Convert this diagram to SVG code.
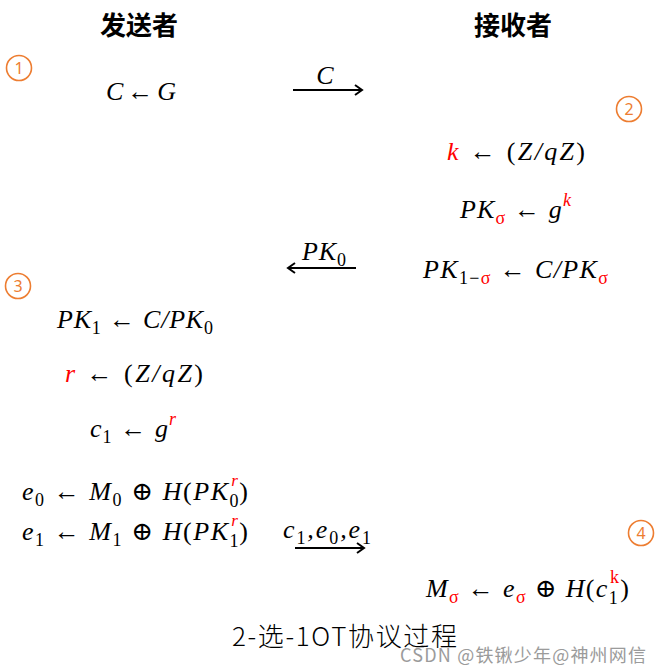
<svg xmlns="http://www.w3.org/2000/svg" width="662" height="672" viewBox="0 0 662 672">
<style>
.hd{font-family:"Noto Sans CJK SC","Noto Sans",sans-serif;font-weight:700;font-size:26px;fill:#000;text-anchor:middle}
.m{font-family:"Liberation Serif","DejaVu Serif",serif;font-style:italic;font-size:26px;fill:#000}
.u{font-style:normal}
.s{font-size:18px;font-style:normal}
.r{fill:#FF0000}
.num circle{fill:none;stroke:#ED7D31;stroke-width:1.6}
.num text{font-family:"Noto Sans","DejaVu Sans",sans-serif;font-size:16px;fill:#ED7D31;text-anchor:middle}
.ar{stroke:#000;stroke-width:2;fill:none}
.cap{font-family:"Noto Sans CJK SC","Noto Sans",sans-serif;font-weight:300;font-size:26px;fill:#000}
.wm{font-family:"Noto Sans CJK SC","Noto Sans",sans-serif;font-size:18px;fill:#8a8a8a;opacity:0.85}
</style>
<rect width="662" height="672" fill="#fff"/>
<g id="sender-title"><text class="hd" x="139" y="35">发送者</text></g>
<g id="receiver-title"><text class="hd" x="513" y="35">接收者</text></g>
<g id="step1" class="num"><circle cx="19" cy="68" r="12.5"/><text x="19" y="73.5">1</text></g>
<g id="step2" class="num"><circle cx="629" cy="109" r="12.5"/><text x="629" y="114.5">2</text></g>
<g id="step3" class="num"><circle cx="18" cy="286" r="12.5"/><text x="18" y="291.5">3</text></g>
<g id="step4" class="num"><circle cx="641" cy="533" r="12.5"/><text x="641" y="538.5">4</text></g>

<g id="s-cg"><text class="m" x="106" y="100" textLength="70">C <tspan class="u">←</tspan> G</text></g>
<g id="r-k"><text class="m" x="447" y="160" textLength="138"><tspan class="r">k</tspan> <tspan class="u">← (</tspan>Z/qZ<tspan class="u">)</tspan></text></g>
<g id="r-pks"><text class="m" x="460" y="218" textLength="111">PK<tspan class="s r" dy="6">σ</tspan><tspan class="u" dy="-6"> ← </tspan>g<tspan class="r" font-size="18" dy="-12">k</tspan></text></g>
<g id="r-pk1s"><text class="m" x="423" y="278" textLength="185">PK<tspan class="s" dy="6">1−<tspan class="r">σ</tspan></tspan><tspan class="u" dy="-6"> ← </tspan>C/PK<tspan class="s r" dy="6">σ</tspan></text></g>

<g id="s-pk1"><text class="m" x="57" y="328" textLength="156">PK<tspan class="s" dy="6">1</tspan><tspan class="u" dy="-6"> ← </tspan>C/PK<tspan class="s" dy="6">0</tspan></text></g>
<g id="s-r"><text class="m" x="65" y="382" textLength="138"><tspan class="r">r</tspan> <tspan class="u">← (</tspan>Z/qZ<tspan class="u">)</tspan></text></g>
<g id="s-c1"><text class="m" x="90" y="437" textLength="86">c<tspan class="s" dy="6">1</tspan><tspan class="u" dy="-6"> ← </tspan>g<tspan class="r" font-size="18" dy="-12">r</tspan></text></g>
<g id="s-e0"><text class="m" x="22" y="500" textLength="226">e<tspan class="s" dy="6">0</tspan><tspan class="u" dy="-6"> ← </tspan>M<tspan class="s" dy="6">0</tspan><tspan class="u" dy="-6"> ⊕ </tspan>H<tspan class="u">(</tspan>PK<tspan class="s" dy="7">0</tspan><tspan class="r" font-size="17" dx="-9" dy="-21">r</tspan><tspan class="u" dy="14">)</tspan></text></g>
<g id="s-e1"><text class="m" x="22" y="540" textLength="226">e<tspan class="s" dy="6">1</tspan><tspan class="u" dy="-6"> ← </tspan>M<tspan class="s" dy="6">1</tspan><tspan class="u" dy="-6"> ⊕ </tspan>H<tspan class="u">(</tspan>PK<tspan class="s" dy="7">1</tspan><tspan class="r" font-size="17" dx="-9" dy="-21">r</tspan><tspan class="u" dy="14">)</tspan></text></g>
<g id="r-m"><text class="m" x="426" y="597" textLength="203">M<tspan class="s r" dy="6" font-style="italic">σ</tspan><tspan class="u" dy="-6"> ← </tspan>e<tspan class="s r" dy="6" font-style="italic">σ</tspan><tspan class="u" dy="-6"> ⊕ </tspan>H<tspan class="u">(</tspan>c<tspan class="s" dy="7">1</tspan><tspan class="s r" dx="-9" dy="-21">k</tspan><tspan class="u" dy="14">)</tspan></text></g>

<g id="connectors">
<g id="msg-C"><line class="ar" x1="293" y1="90" x2="362" y2="90"/><polyline class="ar" points="355,85 362,90 355,95"/><text class="m" x="325" y="84" text-anchor="middle">C</text></g>
<g id="msg-PK0"><line class="ar" x1="288" y1="268" x2="356" y2="268"/><polyline class="ar" points="295,263 288,268 295,273"/><text class="m" x="302" y="260" textLength="44">PK<tspan class="s" dy="6">0</tspan></text></g>
<g id="msg-c1e"><line class="ar" x1="295" y1="548" x2="364" y2="548"/><polyline class="ar" points="357,543 364,548 357,553"/><text class="m" x="283" y="538" textLength="88">c<tspan class="s" dy="6">1</tspan><tspan dy="-6">,e</tspan><tspan class="s" dy="6">0</tspan><tspan dy="-6">,e</tspan><tspan class="s" dy="6">1</tspan></text></g>
</g>

<g id="caption"><text class="cap" x="232" y="646" textLength="225">2-选-1OT协议过程</text></g>
<g id="watermark"><text class="wm" x="400" y="662" textLength="246">CSDN @铁锹少年@神州网信</text></g>
</svg>
